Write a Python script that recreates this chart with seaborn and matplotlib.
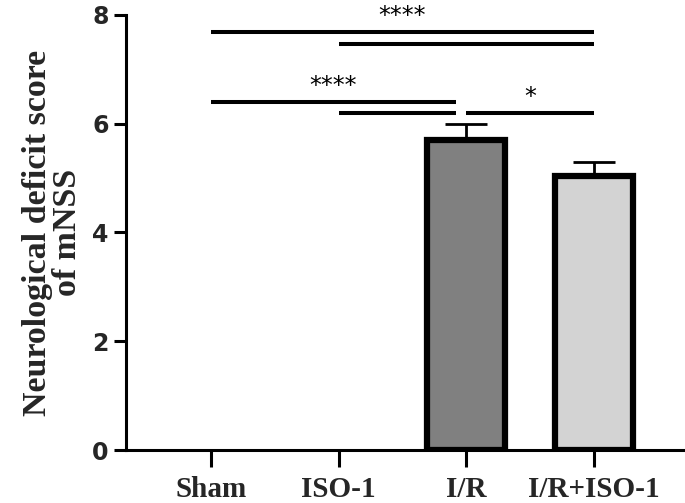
import matplotlib
matplotlib.use("Agg")
import matplotlib.pyplot as plt
import seaborn as sns
import pandas as pd
import numpy as np

groups = ["Sham", "ISO-1", "I/R", "I/R+ISO-1"]
means = [0.0, 0.0, 5.70, 5.04]
sems = [0.0, 0.0, 0.30, 0.26]
colors = ["#ffffff", "#ffffff", "#808080", "#d3d3d3"]
# significance comparisons: (start group, end group, level, label)
sig_pairs = [
    (0, 3.0, 7.69, "****"),
    (1, 3.0, 7.47, ""),
    (0, 1.92, 6.40, "****"),
    (1, 1.92, 6.20, ""),
    (2, 3.0, 6.20, "*"),
]
yticks = [0, 2, 4, 6, 8]

sns.set_style("ticks")
plt.rcParams["font.family"] = ["DejaVu Sans"]

fig = plt.figure(figsize=(6.85, 5.03), dpi=100)
ax = fig.add_axes([126 / 685, 53 / 503, 557 / 685, 435 / 503])

df = pd.DataFrame({"group": groups, "mean": means})
sns.barplot(data=df, x="group", y="mean", hue="group", palette=colors,
            edgecolor="black", linewidth=4.5, width=0.61, errorbar=None,
            legend=False, ax=ax, zorder=3)
for p, m in zip(ax.patches, means):
    if m == 0:
        p.set_visible(False)

ax.errorbar(np.arange(len(groups)), means, yerr=[np.zeros(len(sems)), sems],
            fmt="none", ecolor="black", elinewidth=2.0, capsize=15, capthick=2.0,
            zorder=2)

for x1, x2, y, lab in sig_pairs:
    ax.plot([x1, x2], [y, y], color="black", lw=2.9, solid_capstyle="butt",
            clip_on=False, zorder=4)
    if lab:
        ax.text((x1 + x2) / 2, y + 0.07, lab, ha="center", va="bottom",
                fontsize=17, family="DejaVu Sans", color="black")

ax.set_xlim(-0.666, 3.70)
ax.set_ylim(0, 8)
ax.set_yticks(yticks)
ax.set_yticklabels([str(t) for t in yticks], fontsize=17, fontweight="bold",
                   family="DejaVu Sans")
ax.set_xticks(range(len(groups)))
ax.set_xticklabels(groups, fontsize=21, fontweight="bold", family="Liberation Serif")
ax.tick_params(axis="y", length=8.5, width=2.2, pad=4, color="black")
ax.tick_params(axis="x", length=12, width=2.2, pad=7, color="black")
ax.set_xlabel("")
ax.set_ylabel("Neurological deficit score\nof mNSS", fontsize=24.5, fontweight="bold",
              family="Liberation Serif", linespacing=0.95)
ax.yaxis.set_label_coords(-0.078, 0.5)

sns.despine(ax=ax)
for s in ["left", "bottom"]:
    ax.spines[s].set_linewidth(2.2)
    ax.spines[s].set_color("black")

fig.savefig("out.png", dpi=100)
